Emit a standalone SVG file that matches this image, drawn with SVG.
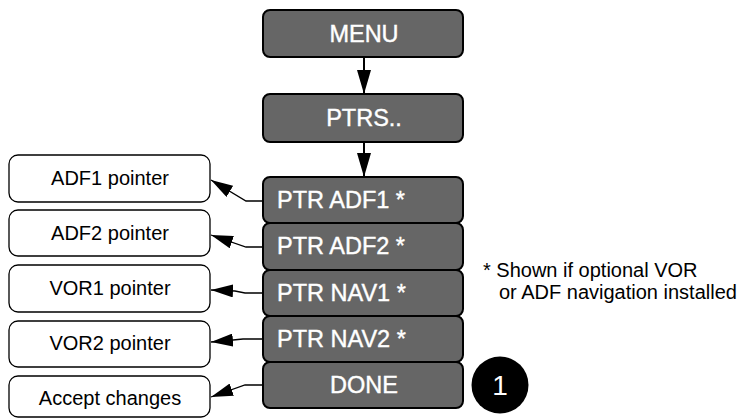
<svg xmlns="http://www.w3.org/2000/svg" width="743" height="418" viewBox="0 0 743 418">
<style>
.g{fill:#666666;stroke:#000;stroke-width:2}
.w{fill:#fff;stroke:#000;stroke-width:1.3}
.gt{font-family:"Liberation Sans",Arial,sans-serif;font-size:23.5px;fill:#fff;stroke:#fff;stroke-width:0.4}
.wt{font-family:"Liberation Sans",Arial,sans-serif;font-size:20px;fill:#000;text-anchor:middle}
.ft{font-family:"Liberation Sans",Arial,sans-serif;font-size:20px;fill:#000}
.c{fill:none;stroke:#000;stroke-width:1.3}
.v{fill:none;stroke:#000;stroke-width:2}
</style>
<defs>
<marker id="ah" markerUnits="userSpaceOnUse" markerWidth="22" markerHeight="13" refX="22" refY="6.5" orient="auto" viewBox="0 0 22 13">
<path d="M0,0 L22,6.5 L0,13 z" fill="#000"/>
</marker>
<marker id="av" markerUnits="userSpaceOnUse" markerWidth="24" markerHeight="14" refX="24" refY="7" orient="auto" viewBox="0 0 24 14">
<path d="M0,0 L24,7 L0,14 z" fill="#000"/>
</marker>
</defs>
<g id="connectors">
<path class="v" d="M364,57 L364,94" marker-end="url(#av)"/>
<path class="v" d="M364,142 L364,177" marker-end="url(#av)"/>
<path class="c" d="M263,201 L246,201 L211,180" marker-end="url(#ah)"/>
<path class="c" d="M263,247 L246,247 L211,235" marker-end="url(#ah)"/>
<path class="c" d="M263,293 L245,293 L235,291 L211,290" marker-end="url(#ah)"/>
<path class="c" d="M263,339 L243,339 L233,340 L211,342" marker-end="url(#ah)"/>
<path class="c" d="M263,385 L245,385 L211,397" marker-end="url(#ah)"/>
</g>
<g id="menu"><rect class="g" x="263" y="10" width="200" height="47" rx="7"/><text class="gt" x="364" y="42" text-anchor="middle">MENU</text></g>
<g id="ptrs"><rect class="g" x="263" y="94" width="200" height="48" rx="7"/><text class="gt" x="364" y="126" text-anchor="middle">PTRS..</text></g>
<g id="ptr-adf1"><rect class="g" x="263" y="177" width="200" height="46" rx="7"/><text class="gt" x="277" y="208">PTR ADF1 *</text></g>
<g id="ptr-adf2"><rect class="g" x="263" y="223" width="200" height="47" rx="7"/><text class="gt" x="277" y="254">PTR ADF2 *</text></g>
<g id="ptr-nav1"><rect class="g" x="263" y="270" width="200" height="46" rx="7"/><text class="gt" x="277" y="301">PTR NAV1 *</text></g>
<g id="ptr-nav2"><rect class="g" x="263" y="316" width="200" height="46" rx="7"/><text class="gt" x="277" y="347">PTR NAV2 *</text></g>
<g id="done"><rect class="g" x="263" y="362" width="200" height="46" rx="7"/><text class="gt" x="364" y="393" text-anchor="middle">DONE</text></g>
<g id="adf1-pointer"><rect class="w" x="9" y="155" width="201" height="47" rx="9"/><text class="wt" x="110" y="185">ADF1 pointer</text></g>
<g id="adf2-pointer"><rect class="w" x="9" y="210" width="201" height="46" rx="9"/><text class="wt" x="110" y="240">ADF2 pointer</text></g>
<g id="vor1-pointer"><rect class="w" x="9" y="265" width="201" height="47" rx="9"/><text class="wt" x="110" y="295">VOR1 pointer</text></g>
<g id="vor2-pointer"><rect class="w" x="9" y="321" width="201" height="46" rx="9"/><text class="wt" x="110" y="350">VOR2 pointer</text></g>
<g id="accept-changes"><rect class="w" x="9" y="376" width="201" height="41" rx="9"/><text class="wt" x="110" y="405">Accept changes</text></g>
<g id="note"><text class="ft" x="483" y="277">* Shown if optional VOR</text><text class="ft" x="499" y="299">or ADF navigation installed</text></g>
<g id="badge"><circle cx="500" cy="385" r="28.5" fill="#000"/><text x="500" y="395" text-anchor="middle" font-family="Liberation Sans,Arial,sans-serif" font-size="28" fill="#fff">1</text></g>
</svg>
